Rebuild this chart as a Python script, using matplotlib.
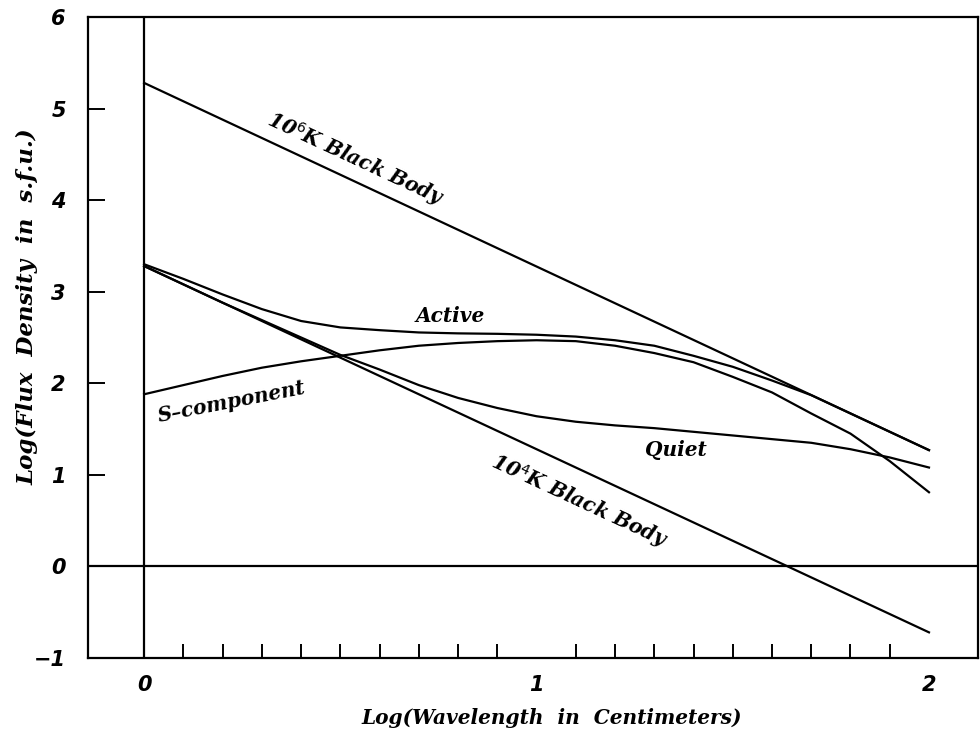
import numpy as np
import matplotlib
matplotlib.use('Agg')
import matplotlib.pyplot as plt

# log wavelength (cm) grid and curves
log_wl = [0.0, 0.1, 0.2, 0.3, 0.4, 0.5, 0.6, 0.7, 0.8, 0.9, 1.0,
          1.1, 1.2, 1.3, 1.4, 1.5, 1.6, 1.7, 1.8, 1.9, 2.0]
quiet = [3.28, 3.08, 2.88, 2.69, 2.50, 2.31, 2.15, 1.98, 1.84, 1.73, 1.64,
         1.58, 1.54, 1.51, 1.47, 1.43, 1.39, 1.35, 1.28, 1.19, 1.08]
s_comp = [1.88, 1.98, 2.08, 2.17, 2.24, 2.30, 2.36, 2.41, 2.44, 2.46, 2.47,
          2.46, 2.41, 2.33, 2.23, 2.07, 1.90, 1.67, 1.45, 1.15, 0.81]
active = [3.30, 3.14, 2.97, 2.81, 2.68, 2.61, 2.58, 2.555, 2.545, 2.54, 2.53,
          2.51, 2.47, 2.41, 2.30, 2.18, 2.03, 1.87, 1.67, 1.47, 1.27]

bb_x = [0.0, 2.0]
bb_1e6 = [5.28, 1.27]
bb_1e4 = [3.28, -0.72]

x_ticks = [0, 1, 2]
y_ticks = [-1, 0, 1, 2, 3, 4, 5, 6]
minor_x = [round(0.1 * i, 1) for i in range(1, 21)]

num_font = dict(family='DejaVu Sans', weight='bold', style='italic', size=15)
txt_font = dict(family='DejaVu Serif', weight='bold', style='italic', size=14.5)

fig = plt.figure(figsize=(9.8, 7.29), dpi=100)
ax = fig.add_axes([0.0898, 0.0974, 0.9082, 0.8793])

lw = 1.6
ax.plot(bb_x, bb_1e6, color='black', lw=lw)
ax.plot(bb_x, bb_1e4, color='black', lw=lw)
ax.plot(log_wl, quiet, color='black', lw=lw)
ax.plot(log_wl, s_comp, color='black', lw=lw)
ax.plot(log_wl, active, color='black', lw=lw)

ax.axvline(0, color='black', lw=lw)
ax.axhline(0, color='black', lw=lw)

ax.set_xlim(-0.143, 2.125)
ax.set_ylim(-1, 6)

for s in ax.spines.values():
    s.set_linewidth(lw)

ax.set_xticks(x_ticks)
ax.set_xticklabels([str(t) for t in x_ticks], fontdict=num_font)
ax.set_xticks(minor_x, minor=True)
ax.set_yticks(y_ticks)
ax.set_yticklabels(['\u22121' if t == -1 else str(t) for t in y_ticks], fontdict=num_font)
ax.tick_params(axis='x', which='both', direction='in', length=10, width=1.4, pad=12)
ax.tick_params(axis='x', which='major', length=0)
ax.tick_params(axis='y', direction='in', length=12, width=1.4, pad=16)

ax.set_xlabel('Log(Wavelength  in  Centimeters)', fontdict=txt_font)
ax.set_ylabel('Log(Flux  Density  in  s.f.u.)', family='DejaVu Serif', weight='bold',
              style='italic', size=16.5)
ax.xaxis.set_label_coords(0.521, -0.078)
ax.yaxis.set_label_coords(-0.056, 0.548)

ax.text(0.54, 4.45, r'10$^{6}$K Black Body', rotation=-25, ha='center', va='center',
        rotation_mode='anchor', **txt_font)
ax.text(1.11, 0.72, r'10$^{4}$K Black Body', rotation=-25, ha='center', va='center',
        rotation_mode='anchor', **txt_font)
ax.text(0.78, 2.74, 'Active', ha='center', va='center', **txt_font)
ax.text(1.355, 1.27, 'Quiet', ha='center', va='center', **txt_font)
ax.text(0.224, 1.80, 'S\u2013component', rotation=11, ha='center', va='center',
        rotation_mode='anchor', **txt_font)

fig.savefig('out.png', dpi=100)
